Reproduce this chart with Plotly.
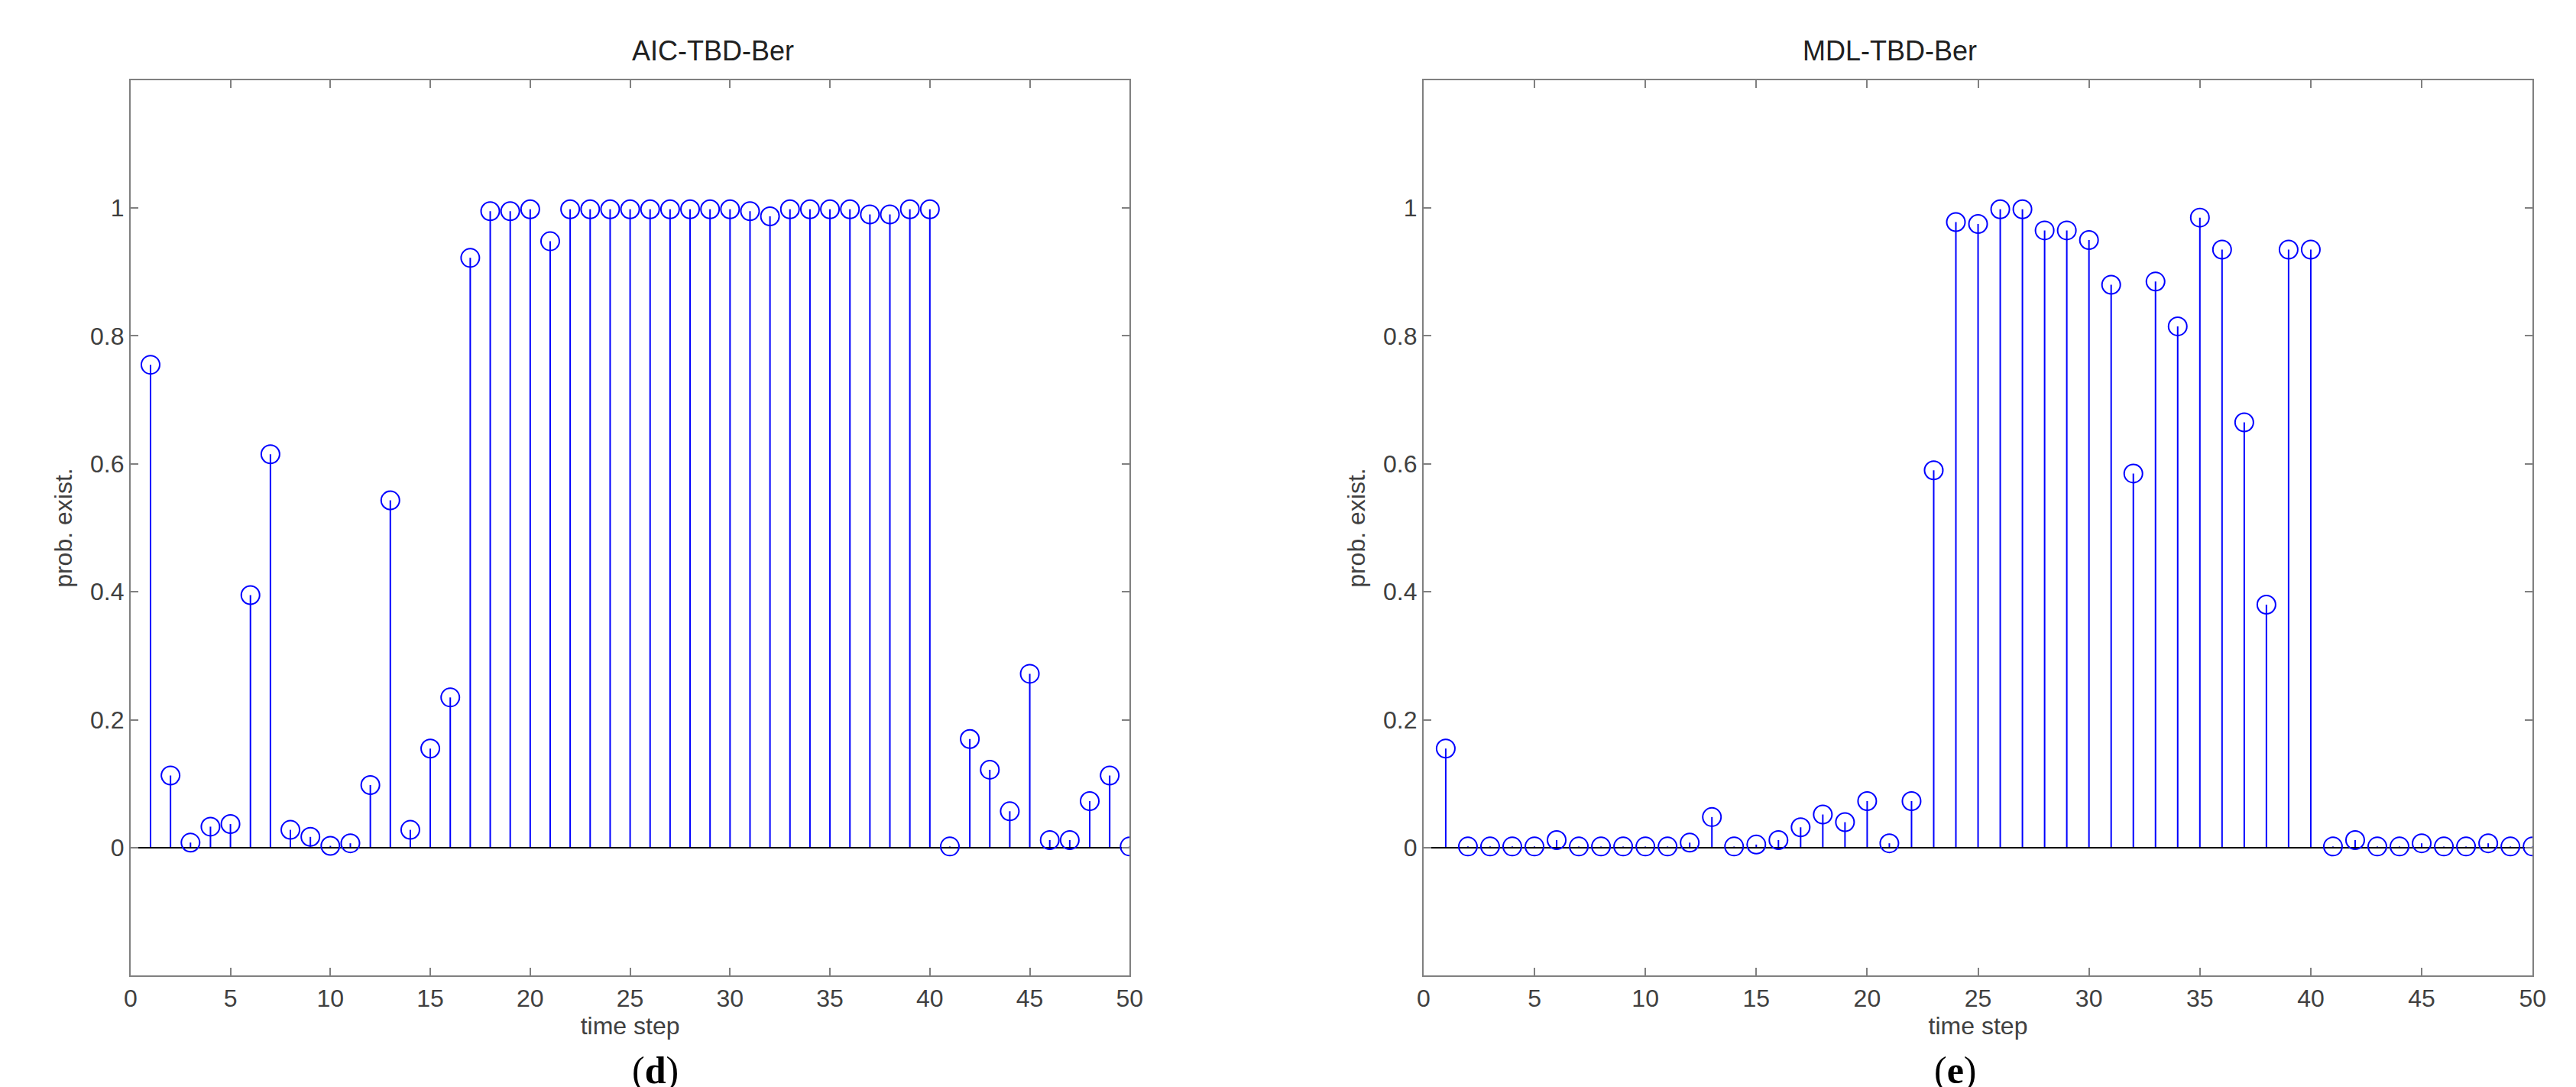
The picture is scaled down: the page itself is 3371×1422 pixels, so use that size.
import plotly.graph_objects as go

steps = list(range(1, 51))
aic = [0.755, 0.113, 0.008, 0.033, 0.037, 0.395, 0.615, 0.028, 0.017, 0.003,
       0.007, 0.098, 0.543, 0.028, 0.155, 0.235, 0.922, 0.995, 0.995, 0.998,
       0.948, 0.998, 0.998, 0.998, 0.998, 0.998, 0.998, 0.998, 0.998, 0.998,
       0.995, 0.987, 0.998, 0.998, 0.998, 0.998, 0.990, 0.990, 0.998, 0.998,
       0.002, 0.170, 0.122, 0.057, 0.272, 0.012, 0.012, 0.073, 0.113, 0.002]
mdl = [0.155, 0.002, 0.002, 0.002, 0.002, 0.012, 0.002, 0.002, 0.002, 0.002,
       0.002, 0.008, 0.048, 0.002, 0.005, 0.012, 0.032, 0.052, 0.040, 0.073,
       0.007, 0.073, 0.590, 0.978, 0.975, 0.998, 0.998, 0.965, 0.965, 0.950,
       0.880, 0.585, 0.885, 0.815, 0.985, 0.935, 0.665, 0.380, 0.935, 0.935,
       0.002, 0.012, 0.002, 0.002, 0.007, 0.002, 0.002, 0.007, 0.002, 0.002]
xticks = [0, 5, 10, 15, 20, 25, 30, 35, 40, 45, 50]
yticks = [0, 0.2, 0.4, 0.6, 0.8, 1]
yticklabels = ["0", "0.2", "0.4", "0.6", "0.8", "1"]

fig = go.Figure()
panels = [
    (aic, "x", "y", [0.046, 0.437], "AIC-TBD-Ber", "(<b>d</b>)"),
    (mdl, "x2", "y2", [0.552, 0.986], "MDL-TBD-Ber", "(<b>e</b>)"),
]
for i, (vals, xa, ya, dom, title, lab) in enumerate(panels):
    # stems
    sx, sy = [], []
    for s, v in zip(steps, vals):
        sx += [s, s, None]
        sy += [0, v, None]
    fig.add_trace(go.Scatter(x=sx, y=sy, mode="lines", xaxis=xa, yaxis=ya,
                             line=dict(color="#0000ff", width=2), hoverinfo="skip",
                             showlegend=False))
    # baseline
    fig.add_trace(go.Scatter(x=[0, 50], y=[0, 0], mode="lines", xaxis=xa, yaxis=ya,
                             line=dict(color="black", width=2), showlegend=False))
    fig.add_trace(go.Scatter(x=steps, y=vals, mode="markers", xaxis=xa, yaxis=ya,
                             marker=dict(symbol="circle-open", size=24, color="#0000ff",
                                         line=dict(width=2)),
                             showlegend=False))
    suffix = "" if i == 0 else "2"
    axcommon = dict(showline=True, mirror="ticks", linecolor="#808080", linewidth=2,
                    ticks="inside", ticklen=10, tickcolor="#808080", tickwidth=2,
                    showgrid=False, zeroline=False,
                    tickfont=dict(size=32, color="#404040"))
    fig.layout["xaxis" + suffix] = dict(domain=dom, range=[0, 50], tickvals=xticks,
                                        anchor="y" + suffix,
                                        title=dict(text="time step", standoff=6,
                                                   font=dict(size=32, color="#404040")),
                                        **axcommon)
    fig.layout["yaxis" + suffix] = dict(domain=[0.108, 0.932], range=[-0.2, 1.2],
                                        tickvals=yticks, ticktext=yticklabels,
                                        anchor="x" + suffix,
                                        title=dict(text="prob. exist.", standoff=14,
                                                   font=dict(size=32, color="#404040")),
                                        **axcommon)
    mid = (dom[0] + dom[1]) / 2
    fig.add_annotation(text=title, x=mid, y=0.943, xref="paper", yref="paper",
                       yanchor="bottom", showarrow=False,
                       font=dict(size=36, color="#202020"))
    fig.add_annotation(text=lab, x=mid, y=0.0, xref="paper", yref="paper",
                       yanchor="bottom", showarrow=False,
                       font=dict(size=50, color="black", family="Liberation Serif"))

fig.update_layout(width=3371, height=1422, margin=dict(l=0, r=0, t=0, b=0),
                  plot_bgcolor="white", paper_bgcolor="white",
                  font=dict(family="Liberation Sans"))
fig.write_html("out.html")
